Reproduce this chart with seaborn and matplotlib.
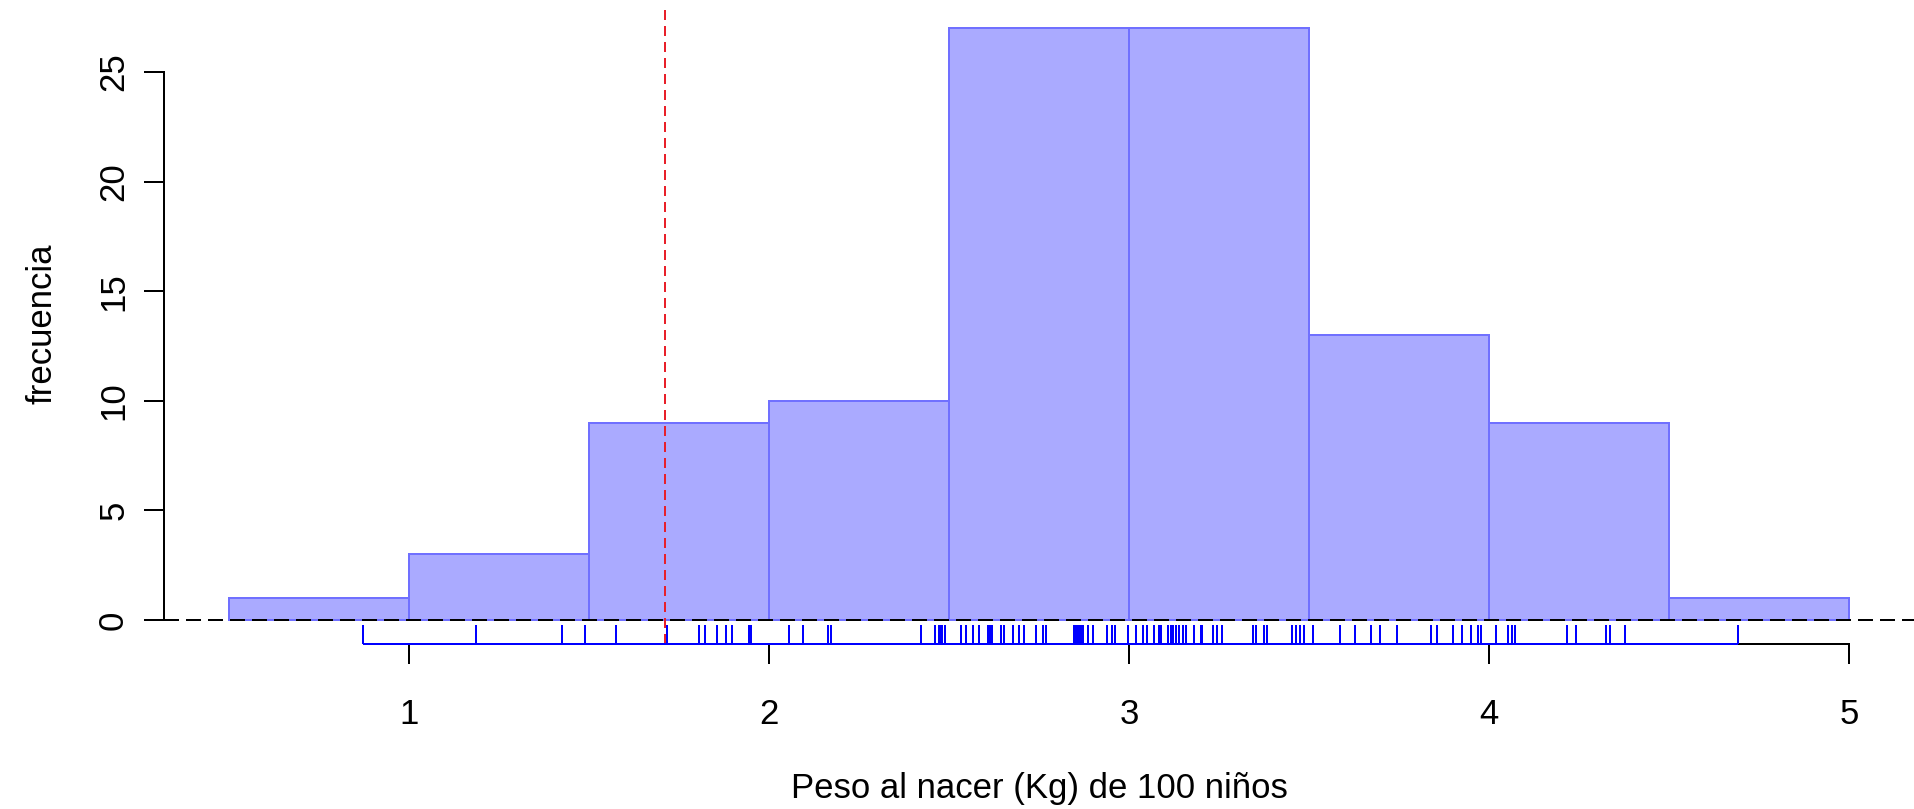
import numpy as np
import pandas as pd
import matplotlib
matplotlib.use("Agg")
import matplotlib.pyplot as plt
import seaborn as sns

# ---- data ----
bin_edges = [0.5, 1.0, 1.5, 2.0, 2.5, 3.0, 3.5, 4.0, 4.5, 5.0]
bin_counts = [1, 3, 9, 10, 27, 27, 13, 9, 1]
rug_values = [
    0.872,
    1.186, 1.426, 1.489,
    1.576, 1.717, 1.806, 1.823, 1.855, 1.880, 1.897, 1.946, 1.951,
    2.057, 2.094, 2.163, 2.172, 2.423, 2.460, 2.472, 2.478, 2.481, 2.490,
    2.534, 2.547, 2.566, 2.582, 2.607, 2.613, 2.620, 2.644, 2.654, 2.677,
    2.695, 2.707, 2.743, 2.762, 2.769, 2.848, 2.853, 2.858, 2.863, 2.867,
    2.871, 2.885, 2.899, 2.940, 2.954, 2.962, 2.996,
    3.019, 3.040, 3.051, 3.070, 3.082, 3.088, 3.107, 3.116, 3.123, 3.130,
    3.139, 3.151, 3.158, 3.181, 3.200, 3.204, 3.232, 3.244, 3.258, 3.343,
    3.352, 3.375, 3.382, 3.454, 3.464, 3.475, 3.487,
    3.510, 3.585, 3.628, 3.671, 3.696, 3.745, 3.838, 3.856, 3.900, 3.924,
    3.949, 3.968, 3.977,
    4.018, 4.053, 4.064, 4.073, 4.217, 4.242, 4.325, 4.335, 4.378,
    4.691,
]
ref_value = 1.710
x_ticks = [1, 2, 3, 4, 5]
y_ticks = [0, 5, 10, 15, 20, 25]
x_label = "Peso al nacer (Kg) de 100 niños"
y_label = "frecuencia"

# ---- style ----
sns.set_theme(style="white")
plt.rcParams["font.family"] = ["Liberation Sans", "DejaVu Sans"]
FS = 25
LW = 1.44

fig = plt.figure(figsize=(19.14, 8.09), dpi=100)
ax = fig.add_axes([164 / 1914, (809 - 643.7) / 809, 1750 / 1914, 639.2 / 809])

centers = [(a + b) / 2 for a, b in zip(bin_edges[:-1], bin_edges[1:])]
df = pd.DataFrame({"x": centers, "n": bin_counts})
sns.histplot(data=df, x="x", weights="n", bins=bin_edges, stat="count",
             color="#AAAAFF", edgecolor="#7070FF", linewidth=LW, alpha=1.0,
             ax=ax)

xmin, xmax = 0.5 - 0.04 * 4.5, 5.0 + 0.04 * 4.5
ymin, ymax = -0.04 * 27, 27 + 0.04 * 27
ax.set_xlim(xmin, xmax)
ax.set_ylim(ymin, ymax)

# reference lines
ax.axhline(0, color="black", lw=LW, ls=(0, (7.5, 3.5)), zorder=5)
ax.axvline(ref_value, color="#E8202A", lw=LW, ls=(0, (5.0, 3.0)), zorder=5)

# rug as an axis with inward ticks
tick_len = 0.03 * (ymax - ymin)
ax.vlines(rug_values, ymin, ymin + tick_len, color="#0000FF", lw=LW,
          zorder=6, clip_on=False)
ax.hlines(ymin, min(rug_values), max(rug_values), color="#0000FF", lw=LW,
          zorder=7, clip_on=False)

# axes styling (R-like)
for s in ["top", "right"]:
    ax.spines[s].set_visible(False)
ax.spines["bottom"].set_bounds(x_ticks[0], x_ticks[-1])
ax.spines["left"].set_bounds(y_ticks[0], y_ticks[-1])
for s in ["bottom", "left"]:
    ax.spines[s].set_color("black")
    ax.spines[s].set_linewidth(LW)
ax.spines["bottom"].set_zorder(4)

ax.set_xticks(x_ticks)
ax.set_xticklabels([str(t) for t in x_ticks])
ax.set_yticks(y_ticks)
ax.set_yticklabels([str(t) for t in y_ticks], rotation=90, va="center")
ax.tick_params(axis="both", which="major", bottom=True, left=True,
               direction="out", length=14.4, width=LW,
               color="black", labelsize=FS, labelcolor="black")
ax.tick_params(axis="x", pad=25)
ax.tick_params(axis="y", pad=10)

ax.set_xlabel(x_label, fontsize=FS, color="black", labelpad=29)
ax.set_ylabel(y_label, fontsize=FS, color="black", labelpad=28)
ax.grid(False)

fig.savefig("out.png", dpi=100, facecolor="white")
